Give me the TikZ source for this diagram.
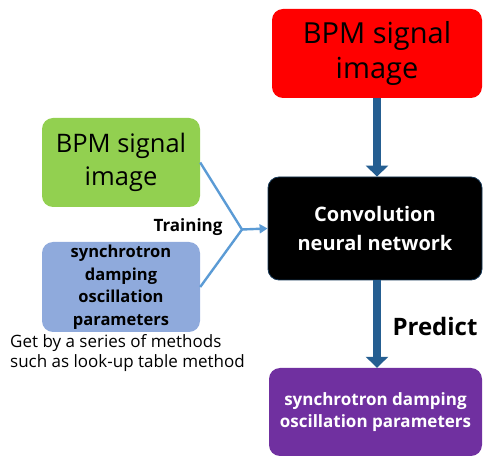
\documentclass[tikz,border=0pt]{standalone}
\usepackage{fontspec}
\setmainfont{Open Sans}
\usetikzlibrary{arrows.meta}
\definecolor{cred}{HTML}{FF0000}
\definecolor{cgreen}{HTML}{92D050}
\definecolor{cblue}{HTML}{8FAADC}
\definecolor{cpurple}{HTML}{7030A0}
\definecolor{cdark}{HTML}{255E91}
\definecolor{clight}{HTML}{5B9BD5}
\tikzset{
  box/.style={rectangle, rounded corners=11pt, inner sep=0pt, align=center},
  darrow/.style={draw=cdark, line width=8.5pt, -{Triangle[width=22pt,length=11pt]}},
  larrow/.style={draw=clight, line width=2.4pt},
}
\begin{document}
\begin{tikzpicture}[x=1pt,y=-1pt]
\useasboundingbox (0,0) rectangle (483,457);
\node[box, fill=cred, minimum width=210pt, minimum height=89pt,
      font=\fontsize{29}{35}\selectfont] (red) at (377,53.5) {BPM signal\\image};
\node[box, fill=cgreen, minimum width=158pt, minimum height=89pt,
      font=\fontsize{25.5}{33}\selectfont] (green) at (121,162.5) {BPM signal\\image};
\node[box, fill=cblue, minimum width=158pt, minimum height=90pt,
      font=\bfseries\fontsize{16.5}{22.5}\selectfont] (blue) at (121,287) {synchrotron\\damping\\oscillation\\parameters};
\node[box, fill=black, draw=cdark!60!black, line width=0.8pt, minimum width=214pt, minimum height=103pt,
      text=white, font=\bfseries\fontsize{20}{29}\selectfont] (cnn) at (375,228.5) {Convolution\\neural network};
\node[box, fill=cpurple, minimum width=213pt, minimum height=88pt,
      text=white, font=\bfseries\fontsize{17}{22}\selectfont] (purple) at (375.5,412) {synchrotron damping\\oscillation parameters};
\node[font=\bfseries\fontsize{17}{20}\selectfont] (train) at (188,227) {Training};
\node[font=\bfseries\fontsize{24}{28}\selectfont] (pred) at (435,327) {Predict};
\node[anchor=west, align=left, inner sep=0pt, font=\fontsize{17}{20}\selectfont] (note) at (10,353)
  {Get by a series of methods\\such as look-up table method};
\coordinate (J) at (242,229.5);
\draw[larrow] (green.east) -- (J) -- (blue.east);
\draw[larrow, -{Triangle[width=9pt,length=8pt]}] (J) -- (cnn.west);
\draw[darrow] (red.south) -- (red.south |- cnn.north);
\draw[darrow] (red.south |- cnn.south) -- (red.south |- purple.north);
\end{tikzpicture}
\end{document}
